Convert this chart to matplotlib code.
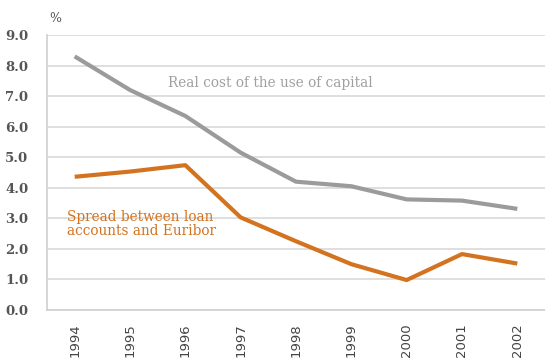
import matplotlib.pyplot as plt

years = ['1994', '1995', '1996', '1997', '1998', '1999', '2000', '2001', '2002']
real_cost = [8.3, 7.2, 6.35, 5.15, 4.2, 4.05, 3.62, 3.58, 3.31]
spread = [4.36, 4.53, 4.74, 3.03, 2.25, 1.5, 0.98, 1.83, 1.52]
yticks = [0.0, 1.0, 2.0, 3.0, 4.0, 5.0, 6.0, 7.0, 8.0, 9.0]

grey = '#9b9b9e'
orange = '#d4731f'
serif = 'DejaVu Serif'

fig = plt.figure(figsize=(5.45, 3.59), dpi=100)
ax = fig.add_axes([47 / 545, 1 - 310 / 359, 498 / 545, 275 / 359])

x = range(len(years))
ax.plot(x, real_cost, color=grey, linewidth=3, solid_capstyle='butt', zorder=3)
ax.plot(x, spread, color=orange, linewidth=3, solid_capstyle='butt', zorder=3)

ax.set_xlim(-0.5, len(years) - 0.5)
ax.set_ylim(0, 9)
ax.set_yticks(yticks)
ax.set_yticklabels(['%.1f' % v for v in yticks], family=serif,
                   fontsize=9.5, color='#555555', fontweight='semibold')
ax.set_xticks(list(x))
ax.set_xticklabels(years, rotation=90, family='DejaVu Sans', fontsize=9.5, color='#444444')
ax.tick_params(axis='y', length=0, pad=13.5)
ax.tick_params(axis='x', length=0, pad=9.5)

ax.grid(axis='y', color='#d9d9d9', linewidth=1.2)
ax.set_axisbelow(True)
for side in ['top', 'right']:
    ax.spines[side].set_visible(False)
ax.spines['left'].set_color('#d0d0d0')
ax.spines['bottom'].set_color('#d0d0d0')
ax.spines['left'].set_linewidth(1.2)
ax.spines['bottom'].set_linewidth(1.2)

fig.text(49 / 545, 1 - 18 / 359, '%', family=serif, fontsize=9,
         color='#555555', va='center', ha='left')
ax.text(1.69, 7.44, 'Real cost of the use of capital', family=serif,
        fontsize=9.8, color='#a0a0a0', va='center', ha='left')
ax.text(-0.14, 2.82, 'Spread between loan\naccounts and Euribor', family=serif,
        fontsize=9.8, color=orange, va='center', ha='left', linespacing=1.05)

fig.savefig('out.png', dpi=100)
